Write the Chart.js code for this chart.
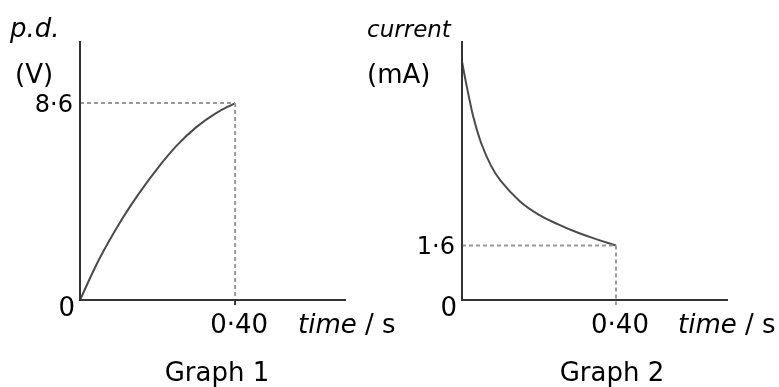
<!DOCTYPE html>
<html>
<head>
<meta charset="utf-8">
<script src="https://cdn.jsdelivr.net/npm/chart.js@4.4.1/dist/chart.umd.min.js"></script>
<style>
  html, body { margin: 0; padding: 0; background: #fff; }
  #wrap { position: relative; width: 779px; height: 387px; }
  #wrap canvas { position: absolute; left: 0; top: 0; }
</style>
</head>
<body>
<div id="wrap">
  <canvas id="graph1" width="779" height="387"></canvas>
  <canvas id="graph2" width="779" height="387"></canvas>
</div>
<script>
// Graph 1 - p.d. across capacitor while charging
const g1Time = [0, 0.05, 0.10, 0.15, 0.20, 0.25, 0.30, 0.35, 0.40]
const g1Pd = [0, 1.8, 3.3, 4.6, 5.75, 6.75, 7.55, 8.15, 8.6]
const g1YTicks = [0, 8.6]
const g1YLabels = ['0', '8·6']

// Graph 2 - charging current
const g2Time = [0, 0.01, 0.02, 0.03, 0.05, 0.075, 0.10, 0.15, 0.20, 0.25, 0.30, 0.35, 0.40]
const g2Current = [7.0, 6.4, 5.85, 5.35, 4.6, 3.95, 3.5, 2.9, 2.5, 2.22, 1.98, 1.78, 1.6]
const g2YTicks = [0, 1.6]
const g2YLabels = ['0', '1·6']

const xTicks = [0.40]
const xLabels = ['0·40']

const FONT = '"DejaVu Sans", Verdana, sans-serif'
const AXIS = '#333'
const CURVE = '#4a4a4a'
const DASH = '#999'

function toPoints(xs, ys) {
    return xs.map((x, i) => ({ x: x, y: ys[i] }))
}

// draws axes, guide lines and all the text the picture has
function axesPlugin(cfg) {
    return {
        id: 'axesPlugin',
        afterDraw(chart) {
            const ctx = chart.ctx
            const a = chart.chartArea
            const xs = chart.scales.x
            const ys = chart.scales.y
            const tx = xs.getPixelForValue(xTicks[0])
            const ty = ys.getPixelForValue(cfg.yTicks[1])

            ctx.save()
            // dashed guides
            ctx.strokeStyle = DASH
            ctx.lineWidth = 2
            ctx.setLineDash([4, 3])
            ctx.beginPath()
            ctx.moveTo(a.left, ty)
            ctx.lineTo(tx, ty)
            ctx.moveTo(tx, ty)
            ctx.lineTo(tx, a.bottom + (cfg.tick ? 0 : 5))
            ctx.stroke()
            ctx.setLineDash([])

            // axes
            ctx.strokeStyle = AXIS
            ctx.lineWidth = 2
            ctx.beginPath()
            ctx.moveTo(a.left, a.top)
            ctx.lineTo(a.left, a.bottom)
            ctx.lineTo(a.right, a.bottom)
            if (cfg.tick) {
                ctx.moveTo(tx, a.bottom)
                ctx.lineTo(tx, a.bottom + 5)
            }
            ctx.stroke()

            // text
            ctx.fillStyle = '#000'
            ctx.textBaseline = 'alphabetic'
            ctx.textAlign = 'left'
            ctx.font = 'italic ' + cfg.nameSize + 'px ' + FONT
            ctx.fillText(cfg.name, cfg.nameX, 37)
            ctx.font = '26px ' + FONT
            ctx.fillText(cfg.unit, cfg.unitX, 83)

            ctx.textAlign = 'right'
            ctx.font = '24px ' + FONT
            ctx.fillText(cfg.yLabels[1], a.left - 7, ty + 9)
            ctx.font = '26px ' + FONT
            ctx.fillText(cfg.yLabels[0], a.left - 5, a.bottom + 16)

            ctx.textAlign = 'center'
            ctx.fillText(xLabels[0], tx + 4, a.bottom + 33)
            ctx.fillText(cfg.title, cfg.titleX, 381)

            ctx.textAlign = 'left'
            ctx.font = 'italic 26px ' + FONT
            ctx.fillText('time', cfg.timeX, a.bottom + 33)
            const w = ctx.measureText('time').width
            ctx.font = '26px ' + FONT
            ctx.fillText(' / s', cfg.timeX + w, a.bottom + 33)
            ctx.restore()
        }
    }
}

function makeGraph(id, xs, ys, cfg) {
    return new Chart(document.getElementById(id), {
        type: 'scatter',
        data: {
            datasets: [{
                data: toPoints(xs, ys),
                showLine: true,
                borderColor: CURVE,
                borderWidth: 2,
                pointRadius: 0,
                tension: 0.4
            }]
        },
        options: {
            responsive: false,
            animation: false,
            devicePixelRatio: 1,
            layout: { padding: cfg.padding },
            plugins: { legend: { display: false }, tooltip: { enabled: false } },
            scales: {
                x: { type: 'linear', min: 0, max: cfg.xMax, display: false },
                y: { type: 'linear', min: 0, max: cfg.yMax, display: false }
            }
        },
        plugins: [axesPlugin(cfg)]
    })
}

makeGraph('graph1', g1Time, g1Pd, {
    padding: { left: 80, top: 41, right: 433, bottom: 87 },
    xMax: 0.686, yMax: 11.31,
    yTicks: g1YTicks, yLabels: g1YLabels,
    name: 'p.d.', nameSize: 26, nameX: 10,
    unit: '(V)', unitX: 15,
    title: 'Graph 1', titleX: 217, timeX: 298,
    tick: true
})

makeGraph('graph2', g2Time, g2Current, {
    padding: { left: 462, top: 41, right: 51, bottom: 87 },
    xMax: 0.691, yMax: 7.60,
    yTicks: g2YTicks, yLabels: g2YLabels,
    name: 'current', nameSize: 23, nameX: 367,
    unit: '(mA)', unitX: 367,
    title: 'Graph 2', titleX: 612, timeX: 678,
    tick: false
})
</script>
</body>
</html>
